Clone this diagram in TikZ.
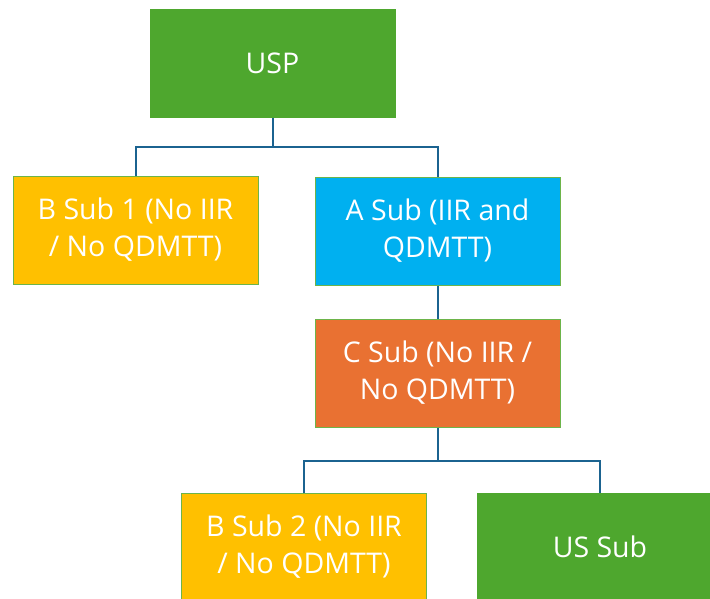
\documentclass[tikz,border=0pt]{standalone}
\usepackage{fontspec}
\setmainfont{Open Sans}
\definecolor{leafgreen}{HTML}{4EA72E}
\definecolor{amber}{HTML}{FFC000}
\definecolor{skyblue}{HTML}{00B0F0}
\definecolor{burntorange}{HTML}{E97132}
\definecolor{boxedge}{HTML}{6DB44A}
\definecolor{linkblue}{HTML}{1B6390}
\begin{document}
\begin{tikzpicture}[x=1pt,y=-1pt,
  box/.style={draw=boxedge, line width=1pt, minimum width=245pt, minimum height=108pt,
    text=white, align=center, inner sep=0pt,
    font=\fontsize{28.5}{37}\selectfont},
  link/.style={draw=linkblue, line width=2pt}]
\useasboundingbox (0,0) rectangle (710,598);
\clip (0,0) rectangle (710,598);

% entities
\node[box, fill=leafgreen, draw=leafgreen] (usp) at (272.5,63) {USP};
\node[box, fill=amber] (bsub1) at (135.5,230) {B Sub 1 (No IIR\\/ No QDMTT)};
\node[box, fill=skyblue] (asub) at (437.5,231) {A Sub (IIR and\\QDMTT)};
\node[box, fill=burntorange] (csub) at (437.5,373) {C Sub (No IIR /\\No QDMTT)};
\node[box, fill=amber] (bsub2) at (304,547) {B Sub 2 (No IIR\\/ No QDMTT)};
\node[box, fill=leafgreen, draw=leafgreen] (ussub) at (600,547) {US Sub};

% ownership links
\coordinate (j1) at (272.5,147);
\coordinate (j2) at (437.5,461);
\draw[link] (usp.south) -- (j1) -| (bsub1.north);
\draw[link] (j1) -| (asub.north);
\draw[link] (asub.south) -- (csub.north);
\draw[link] (csub.south) -- (j2) -| (bsub2.north);
\draw[link] (j2) -| (ussub.north);
\end{tikzpicture}
\end{document}
